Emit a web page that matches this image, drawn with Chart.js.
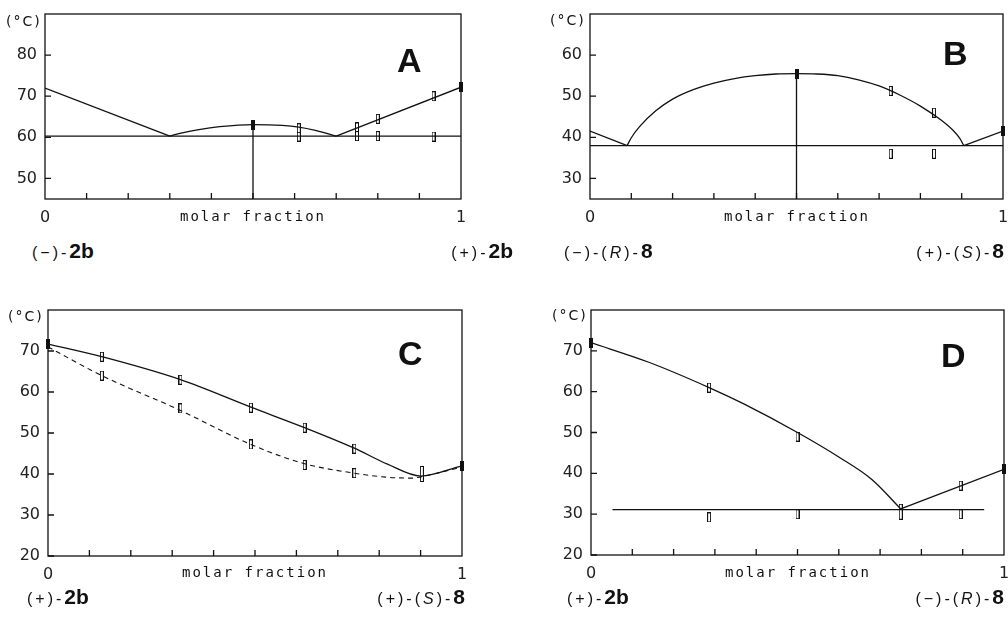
<!DOCTYPE html>
<html>
<head>
<meta charset="utf-8">
<script src="https://cdn.jsdelivr.net/npm/chart.js@4.4.1/dist/chart.umd.min.js"></script>
<style>
  body { margin: 0; background: #fff; width: 1008px; height: 618px; overflow: hidden; position: relative; }
  canvas { position: absolute; }
  .t { position: absolute; color: #111; white-space: nowrap; }
  .unit { font: 14px "DejaVu Sans", sans-serif; letter-spacing: 2px; line-height: 16px; }
  .mf { font: 14px "DejaVu Sans Mono", monospace; letter-spacing: 2px; line-height: 16px; text-align: center; width: 200px; }
  .big { font: bold 34px "Liberation Sans", Arial, sans-serif; line-height: 34px; }
  .cmp { font: 16px "Liberation Sans", Arial, sans-serif; line-height: 24px; }
  .cmp .p { letter-spacing: 3px; }
  .cmp b { font-size: 21px; }
  .cmp i { letter-spacing: 3px; }
</style>
</head>
<body>
<canvas id="cA" width="468" height="221" style="left:1px;top:8px"></canvas>
<canvas id="cB" width="465" height="221" style="left:546px;top:8px"></canvas>
<canvas id="cC" width="466" height="282" style="left:4px;top:304px"></canvas>
<canvas id="cD" width="465" height="281" style="left:547px;top:304px"></canvas>

<div class="t unit" style="left:6px;top:13px">(°C)</div>
<div class="t unit" style="left:550px;top:12px">(°C)</div>
<div class="t unit" style="left:8px;top:308px">(°C)</div>
<div class="t unit" style="left:552px;top:307px">(°C)</div>

<div class="t mf" style="left:153px;top:208px">molar fraction</div>
<div class="t mf" style="left:697px;top:208px">molar fraction</div>
<div class="t mf" style="left:155px;top:564px">molar fraction</div>
<div class="t mf" style="left:698px;top:564px">molar fraction</div>

<div class="t big" style="left:397px;top:43px">A</div>
<div class="t big" style="left:943px;top:36px">B</div>
<div class="t big" style="left:398px;top:336px">C</div>
<div class="t big" style="left:941px;top:338px">D</div>

<div class="t cmp" style="left:32px;top:239px"><span class="p">(−)-</span><b>2b</b></div>
<div class="t cmp" style="right:495px;top:239px"><span class="p">(+)-</span><b>2b</b></div>
<div class="t cmp" style="left:564px;top:239px"><span class="p">(−)-(</span><i>R</i><span class="p">)-</span><b>8</b></div>
<div class="t cmp" style="right:4px;top:239px"><span class="p">(+)-(</span><i>S</i><span class="p">)-</span><b>8</b></div>
<div class="t cmp" style="left:27px;top:585px"><span class="p">(+)-</span><b>2b</b></div>
<div class="t cmp" style="right:543px;top:585px"><span class="p">(+)-(</span><i>S</i><span class="p">)-</span><b>8</b></div>
<div class="t cmp" style="left:567px;top:585px"><span class="p">(+)-</span><b>2b</b></div>
<div class="t cmp" style="right:4px;top:585px"><span class="p">(−)-(</span><i>R</i><span class="p">)-</span><b>8</b></div>

<script>
// molar fraction ticks (shared)
var xTicks = [0, 0.1, 0.2, 0.3, 0.4, 0.5, 0.6, 0.7, 0.8, 0.9, 1];

// A: (-)-2b / (+)-2b
var aYTicks = [50, 60, 70, 80];
var aLeftX = [0, 0.3], aLeftY = [72, 60.3];
var aMidX = [0.3, 0.33, 0.37, 0.42, 0.5, 0.57, 0.61, 0.65, 0.7];
var aMidY = [60.3, 61.1, 61.9, 62.6, 63.1, 62.9, 62.5, 61.7, 60.3];
var aRightX = [0.7, 1], aRightY = [60.3, 72.2];
var aEutX = [0, 1], aEutY = [60.3, 60.3];
var aVertX = [0.5, 0.5], aVertY = [63.1, 45];
var aOpenX = [0.61, 0.61, 0.75, 0.75, 0.8, 0.8, 0.934, 0.934];
var aOpenY = [62.2, 60.2, 62.4, 60.3, 64.5, 60.3, 70, 60.2];
var aFillX = [0.5, 1], aFillY = [63, 72.2];

// B: (-)-(R)-8 / (+)-(S)-8
var bYTicks = [30, 40, 50, 60];
var bLeftX = [0, 0.09], bLeftY = [41.5, 38];
var bMidX = [0.09, 0.1, 0.12, 0.16, 0.2, 0.25, 0.3, 0.35, 0.4, 0.45, 0.5, 0.55, 0.6, 0.65, 0.7, 0.75, 0.8, 0.85, 0.88, 0.895, 0.905];
var bMidY = [38, 39.9, 42.6, 46.5, 49.3, 51.6, 53.2, 54.3, 55, 55.4, 55.5, 55.4, 55, 54, 52.5, 50.3, 47.6, 44.2, 41.6, 39.8, 38];
var bRightX = [0.905, 1], bRightY = [38, 41.5];
var bEutX = [0, 1], bEutY = [38, 38];
var bVertX = [0.5, 0.5], bVertY = [55.5, 25];
var bOpenX = [0.728, 0.833, 0.728, 0.833], bOpenY = [51.3, 46, 36, 36];
var bFillX = [0.5, 1], bFillY = [55.4, 41.5];

// C: (+)-2b / (+)-(S)-8
var cYTicks = [20, 30, 40, 50, 60, 70];
var cUpX = [0, 0.13, 0.32, 0.49, 0.62, 0.74, 0.82, 0.9, 1];
var cUpY = [71.7, 68.6, 63, 56.3, 51.3, 46.3, 42.4, 39.5, 42];
var cLowX = [0, 0.13, 0.32, 0.49, 0.62, 0.74, 0.82, 0.88, 0.9, 1];
var cLowY = [71, 64, 55.5, 47.2, 42.5, 40.2, 39.2, 39, 39.3, 41.7];
var cOpenX = [0.13, 0.32, 0.49, 0.62, 0.74, 0.13, 0.32, 0.49, 0.62, 0.74];
var cOpenY = [68.6, 63, 56.2, 51.3, 46.2, 64, 56, 47.2, 42.2, 40.2];
var cTallX = [0.903], cTallY = [40];
var cFillX = [0, 1], cFillY = [71.8, 42];

// D: (+)-2b / (-)-(R)-8
var dYTicks = [20, 30, 40, 50, 60, 70];
var dLeftX = [0, 0.14, 0.286, 0.37, 0.5, 0.6, 0.68, 0.75];
var dLeftY = [72, 67.2, 61, 57, 50, 44, 38.5, 31.3];
var dRightX = [0.75, 1], dRightY = [31.3, 41];
var dEutX = [0.052, 0.952], dEutY = [31.1, 31.1];
var dOpenX = [0.286, 0.5, 0.895, 0.286, 0.5, 0.895], dOpenY = [61, 49, 37, 29.2, 30, 30];
var dTallX = [0.75], dTallY = [30.6];
var dFillX = [0, 1], dFillY = [72, 41];

function makeMark(w, h, fill) {
  var c = document.createElement("canvas");
  c.width = w; c.height = h;
  var g = c.getContext("2d");
  g.strokeStyle = "#111"; g.fillStyle = "#111"; g.lineWidth = 1;
  if (fill) g.fillRect(0, 0, w, h);
  else g.strokeRect(0.5, 0.5, w - 1, h - 1);
  return c;
}
var openMark = makeMark(4, 10, false);
var tallMark = makeMark(4, 16, false);
var fillMark = makeMark(4, 10, true);

function pts(xs, ys) {
  return xs.map(function(x, i) { return {x: x, y: ys[i]}; });
}
function line(xs, ys, extra) {
  var ds = {data: pts(xs, ys), showLine: true, pointRadius: 0, borderColor: "#111", borderWidth: 1.3};
  for (var k in extra) ds[k] = extra[k];
  return ds;
}
function marks(xs, ys, style) {
  return {data: pts(xs, ys), showLine: false, pointStyle: style, pointRadius: 4, clip: false};
}

// no label overhang padding, so the plot box sits where the canvas says
function noPad(s) {
  s.paddingTop = 0; s.paddingBottom = 0; s.paddingLeft = 0; s.paddingRight = 0;
}

// box + inward tick marks
var frame = {
  id: "frame",
  afterDatasetsDraw: function(chart) {
    var ctx = chart.ctx, a = chart.chartArea, x = chart.scales.x, y = chart.scales.y;
    ctx.save();
    ctx.strokeStyle = "#111";
    ctx.lineWidth = 1.3;
    ctx.strokeRect(a.left, a.top, a.right - a.left, a.bottom - a.top);
    ctx.beginPath();
    x.ticks.forEach(function(t) {
      if (t.value <= 0 || t.value >= 1) return;
      var px = x.getPixelForValue(t.value);
      ctx.moveTo(px, a.bottom); ctx.lineTo(px, a.bottom - 6);
    });
    y.ticks.forEach(function(t) {
      var py = y.getPixelForValue(t.value);
      ctx.moveTo(a.left, py); ctx.lineTo(a.left + 6, py);
    });
    ctx.stroke();
    ctx.restore();
  }
};

function setupPanel(id, yMin, yMax, yTicks, datasets) {
  return new Chart(id, {
    type: "scatter",
    data: {datasets: datasets},
    options: {
      responsive: false,
      animation: false,
      devicePixelRatio: 1,
      events: [],
      layout: {padding: {top: 6, right: 8, left: 0, bottom: 0}},
      plugins: {legend: {display: false}, tooltip: {enabled: false}},
      scales: {
        x: {
          type: "linear", min: 0, max: 1,
          grid: {display: false, drawTicks: false},
          border: {display: false},
          afterBuildTicks: function(s) { s.ticks = xTicks.map(function(v) { return {value: v}; }); },
          afterFit: function(s) { s.height = 30; noPad(s); },
          ticks: {
            autoSkip: false, maxRotation: 0, padding: 9, color: "#222",
            font: {family: "DejaVu Sans", size: 16},
            callback: function(v) { return v === 0 ? "0" : (v === 1 ? "1" : ""); }
          }
        },
        y: {
          min: yMin, max: yMax,
          grid: {display: false, drawTicks: false},
          border: {display: false},
          afterBuildTicks: function(s) { s.ticks = yTicks.map(function(v) { return {value: v}; }); },
          afterFit: function(s) { s.width = 44; noPad(s); },
          ticks: {padding: 8, color: "#222", font: {family: "DejaVu Sans", size: 16}}
        }
      }
    },
    plugins: [frame]
  });
}

setupPanel("cA", 45, 90, aYTicks, [
  marks(aFillX, aFillY, fillMark),
  marks(aOpenX, aOpenY, openMark),
  line(aLeftX, aLeftY),
  line(aMidX, aMidY, {cubicInterpolationMode: "monotone"}),
  line(aRightX, aRightY),
  line(aEutX, aEutY),
  line(aVertX, aVertY)
]);

setupPanel("cB", 25, 70, bYTicks, [
  marks(bFillX, bFillY, fillMark),
  marks(bOpenX, bOpenY, openMark),
  line(bLeftX, bLeftY),
  line(bMidX, bMidY, {cubicInterpolationMode: "monotone"}),
  line(bRightX, bRightY),
  line(bEutX, bEutY),
  line(bVertX, bVertY)
]);

setupPanel("cC", 20, 80, cYTicks, [
  marks(cFillX, cFillY, fillMark),
  marks(cOpenX, cOpenY, openMark),
  marks(cTallX, cTallY, tallMark),
  line(cUpX, cUpY, {cubicInterpolationMode: "monotone"}),
  line(cLowX, cLowY, {cubicInterpolationMode: "monotone", borderDash: [5, 4], borderWidth: 1.1})
]);

setupPanel("cD", 20, 80, dYTicks, [
  marks(dFillX, dFillY, fillMark),
  marks(dOpenX, dOpenY, openMark),
  marks(dTallX, dTallY, tallMark),
  line(dLeftX, dLeftY, {cubicInterpolationMode: "monotone"}),
  line(dRightX, dRightY),
  line(dEutX, dEutY)
]);
</script>
</body>
</html>
